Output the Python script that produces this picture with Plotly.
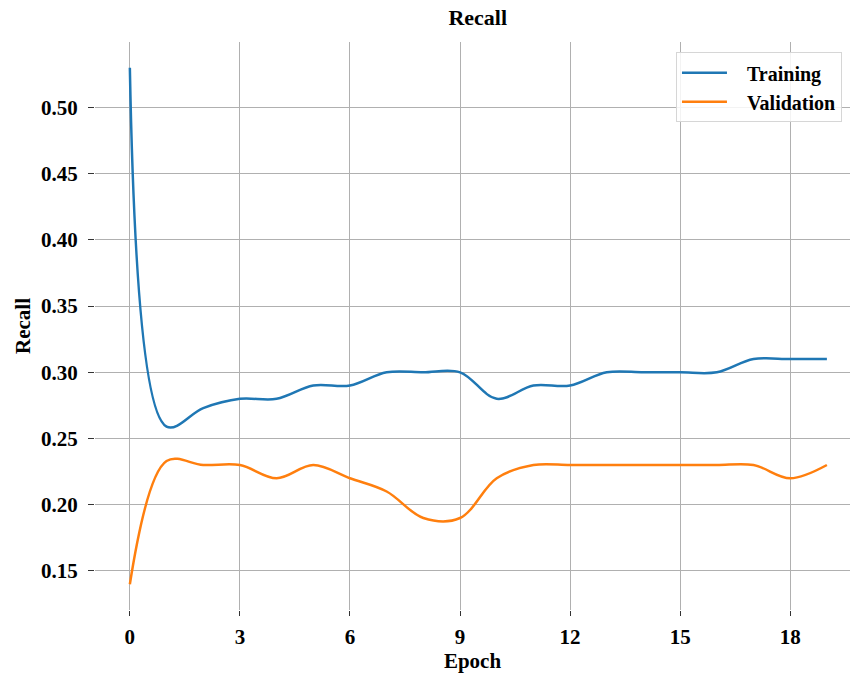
import plotly.graph_objects as go

epochs = list(range(20))
training_recall = [0.53, 0.259, 0.273, 0.28, 0.28, 0.29, 0.29, 0.30, 0.30, 0.30,
                   0.28, 0.29, 0.29, 0.30, 0.30, 0.30, 0.30, 0.31, 0.31, 0.31]
validation_recall = [0.14, 0.233, 0.23, 0.23, 0.22, 0.23, 0.22, 0.21, 0.19, 0.19,
                     0.22, 0.23, 0.23, 0.23, 0.23, 0.23, 0.23, 0.23, 0.22, 0.23]
x_ticks = [0, 3, 6, 9, 12, 15, 18]
y_ticks = [0.15, 0.20, 0.25, 0.30, 0.35, 0.40, 0.45, 0.50]

FONT = "Liberation Serif"
PAD = "\u00a0\u00a0\u00a0"  # gap between legend line sample and label

fig = go.Figure()
fig.add_trace(go.Scatter(x=epochs, y=training_recall, name=PAD + "Training", mode="lines",
                         line=dict(color="#1f77b4", width=2.5, shape="spline", smoothing=1.0)))
fig.add_trace(go.Scatter(x=epochs, y=validation_recall, name=PAD + "Validation", mode="lines",
                         line=dict(color="#ff7f0e", width=2.5, shape="spline", smoothing=1.0)))

fig.update_layout(
    width=850, height=674,
    margin=dict(l=95, r=0, t=42, b=64),
    plot_bgcolor="white", paper_bgcolor="white",
    font=dict(family=FONT, size=21, color="#000000", weight="bold"),
    title=dict(text="Recall", x=0.507, xref="paper", xanchor="center",
               y=0.974, yanchor="middle", font=dict(size=22, weight="bold")),
    legend=dict(x=0.7695, y=0.982, xanchor="left", yanchor="top",
                bgcolor="rgba(255,255,255,0.85)", bordercolor="#d6d6d6", borderwidth=1,
                font=dict(size=20, weight="bold"), itemwidth=45),
    showlegend=True,
)
fig.update_xaxes(
    range=[-0.95, 19.63], tickmode="array", tickvals=x_ticks,
    showgrid=True, gridcolor="#b0b0b0", gridwidth=1,
    zeroline=False, showline=False,
    ticks="outside", ticklen=5, tickcolor="#333333", ticklabelstandoff=3,
    title=dict(text="Epoch", font=dict(size=21, weight="bold"), standoff=5),
)
fig.update_yaxes(
    range=[0.1205, 0.5495], tickmode="array", tickvals=y_ticks, tickformat=".2f",
    showgrid=True, gridcolor="#b0b0b0", gridwidth=1,
    zeroline=False, showline=False,
    ticks="outside", ticklen=6, tickcolor="#333333", ticklabelstandoff=6,
    title=dict(text="Recall", font=dict(size=21, weight="bold"), standoff=4),
)

fig.write_html("out.html")
